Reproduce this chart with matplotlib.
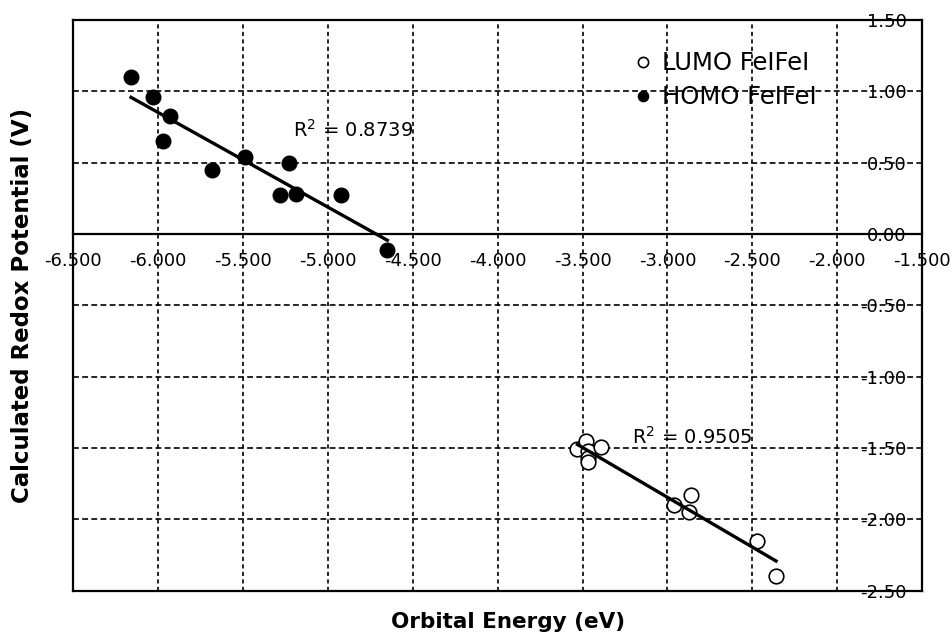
# orbital energy vs calculated redox potential for FeIFeI

import numpy as np
import matplotlib
matplotlib.use("Agg")
import matplotlib.pyplot as plt

homo_x = [-6.16, -6.03, -5.93, -5.97, -5.68, -5.49, -5.23, -5.28, -5.19, -4.92, -4.65]
homo_y = [1.10, 0.96, 0.83, 0.65, 0.45, 0.54, 0.50, 0.27, 0.28, 0.27, -0.11]

lumo_x = [-3.53, -3.48, -3.47, -3.47, -3.47, -3.39, -2.96, -2.86, -2.87, -2.47, -2.36]
lumo_y = [-1.51, -1.45, -1.52, -1.57, -1.60, -1.49, -1.90, -1.83, -1.95, -2.15, -2.40]

x_ticks = [-6.5, -6.0, -5.5, -5.0, -4.5, -4.0, -3.5, -3.0, -2.5, -2.0, -1.5]
y_ticks = [1.5, 1.0, 0.5, 0.0, -0.5, -1.0, -1.5, -2.0, -2.5]

r2_homo = "R$^2$ = 0.8739"
r2_lumo = "R$^2$ = 0.9505"

plt.rcParams['font.family'] = ['DejaVu Sans']
fig = plt.figure(figsize=(9.52, 6.39), dpi=100)
ax = fig.add_axes([0.077, 0.0756, 0.8915, 0.8931])

# grid
for xv in x_ticks[1:-1]:
    ax.axvline(xv, color='k', lw=1.2, dashes=(2.5, 2), zorder=1)
for yv in y_ticks[1:-1]:
    if yv != 0:
        ax.axhline(yv, color='k', lw=1.2, dashes=(3.5, 2), zorder=1)

# data + linear fits
ax.plot(lumo_x, lumo_y, 'o', mfc='white', mec='k', mew=1.2, ms=10.5,
        label='LUMO FeIFeI', zorder=3)
ax.plot(homo_x, homo_y, 'o', mfc='k', mec='k', ms=10.5,
        label='HOMO FeIFeI', zorder=3)

for xs, ys in [(homo_x, homo_y), (lumo_x, lumo_y)]:
    p = np.polyfit(xs, ys, 1)
    xx = np.array([min(xs), max(xs)])
    ax.plot(xx, np.polyval(p, xx), color='k', lw=2.4, zorder=4)

ax.text(-5.205, 0.678, r2_homo, fontsize=14, zorder=5)
ax.text(-3.208, -1.468, r2_lumo, fontsize=14, zorder=5)

ax.set_xlim(-6.5, -1.5)
ax.set_ylim(-2.5, 1.5)

ax.spines['bottom'].set_position(('data', 0))
for s in ['bottom', 'top', 'left', 'right']:
    ax.spines[s].set_linewidth(1.6)
ax.axhline(-2.5, color='k', lw=1.6, clip_on=False, zorder=2)

ax.set_xticks(x_ticks)
ax.set_xticklabels(["%.3f" % v for v in x_ticks])
ax.tick_params(axis='x', length=0, pad=13, labelsize=13)

ax.yaxis.tick_right()
ax.set_yticks(y_ticks)
ax.set_yticklabels(["%.2f" % v for v in y_ticks])
ax.tick_params(axis='y', length=0, pad=-11, labelsize=13)
for t in ax.yaxis.get_major_ticks():
    t.label2.set_horizontalalignment('right')

fig.text(0.024, 0.522, "Calculated Redox Potential (V)", rotation=90,
         fontsize=16.5, fontweight='bold', ha='center', va='center')
fig.text(0.534, 0.027, "Orbital Energy (eV)", fontsize=15.5,
         fontweight='bold', ha='center', va='center')

leg = ax.legend(loc='upper left', bbox_to_anchor=(0.645, 0.962), frameon=False,
                fontsize=17.5, handletextpad=0.3, markerscale=0.7,
                borderaxespad=0, labelspacing=0.4, handlelength=1.0)

fig.savefig("out.png", dpi=100)
